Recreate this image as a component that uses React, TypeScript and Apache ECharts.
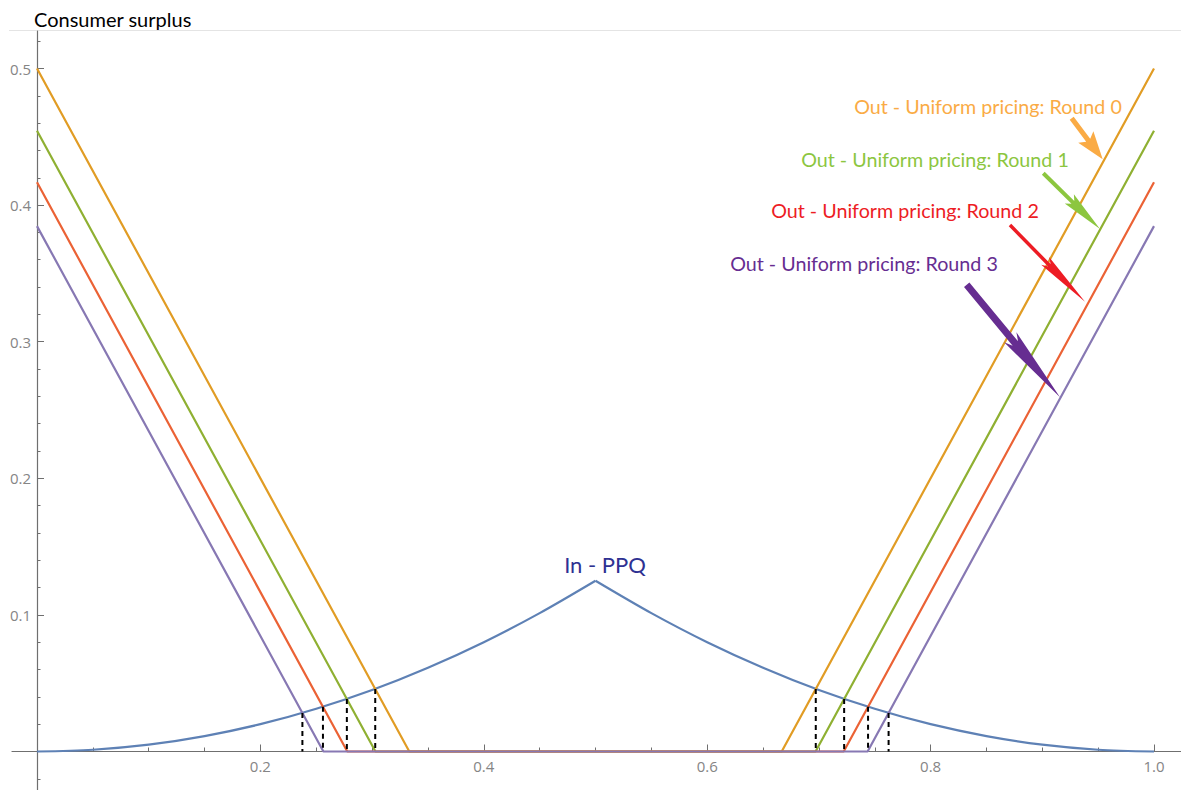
import React, { useEffect, useRef } from "react";
import * as echarts from "echarts";

// ---------- data ----------
const roundNames = [
  "Out - Uniform pricing: Round 0",
  "Out - Uniform pricing: Round 1",
  "Out - Uniform pricing: Round 2",
  "Out - Uniform pricing: Round 3",
];
// value at x = 0 and x = 1 for each round's V-shaped line
const roundIntercepts = [0.5, 0.4545, 0.4167, 0.3846];
// where each line reaches zero on the left and right
const roundZeroLeft = [0.3333, 0.303, 0.2778, 0.2564];
const roundZeroRight = [0.6667, 0.697, 0.7222, 0.7436];

// In - PPQ curve (left half rises to the peak at 0.5, right half falls)
const ppqLeftX = [0, 0.05, 0.1, 0.15, 0.2, 0.25, 0.3, 0.35, 0.4, 0.45, 0.5];
const ppqLeftY = [0, 0.0013, 0.005, 0.0113, 0.02, 0.0313, 0.045, 0.0613, 0.08, 0.1013, 0.125];
const ppqRightX = [0.5, 0.55, 0.6, 0.65, 0.7, 0.75, 0.8, 0.85, 0.9, 0.95, 1.0];
const ppqRightY = [0.125, 0.1013, 0.08, 0.0613, 0.045, 0.0313, 0.02, 0.0113, 0.005, 0.0013, 0];

// dashed drop lines at the intersections
const dropX = [0.3028, 0.2774, 0.256, 0.2376, 0.6972, 0.7226, 0.744, 0.7624];
const dropY = [0.0458, 0.0385, 0.0328, 0.0282, 0.0458, 0.0385, 0.0328, 0.0282];

const xTickValues = [0.2, 0.4, 0.6, 0.8, 1.0];
const yTickValues = [0.1, 0.2, 0.3, 0.4, 0.5];

// ---------- styles ----------
const lineColors = ["#E19C24", "#8FB032", "#EB6235", "#8778B3"];
const labelColors = ["#FAAB45", "#8CC63F", "#ED1C24", "#662D91"];
const ppqColor = "#5E81B5";
const axisColor = "#6f6f6f";
const tickLabelColor = "#858585";

// pixel layout
const W = 1181;
const H = 790;
const X0 = 37; // pixel of x = 0
const PX = 1117; // pixels per unit x
const Y0 = 751.5; // pixel of y = 0
const PY = 1366; // pixels per unit y
const xMin = (12 - X0) / PX;
const xMax = (W - X0) / PX;
const yMax = (Y0 - 31) / PY;
const yMin = (Y0 - H) / PY;

function arrow(x1: number, y1: number, x2: number, y2: number, w: number, L: number, hw: number, notch: number) {
  const d = Math.hypot(x2 - x1, y2 - y1);
  const ux = (x2 - x1) / d;
  const uy = (y2 - y1) / d;
  const vx = -uy;
  const vy = ux;
  const nx = x2 - ux * L;
  const ny = y2 - uy * L;
  const bx = nx - ux * notch;
  const by = ny - uy * notch;
  return [
    [x1 + (vx * w) / 2, y1 + (vy * w) / 2],
    [nx + (vx * w) / 2, ny + (vy * w) / 2],
    [bx + (vx * hw) / 2, by + (vy * hw) / 2],
    [x2, y2],
    [bx - (vx * hw) / 2, by - (vy * hw) / 2],
    [nx - (vx * w) / 2, ny - (vy * w) / 2],
    [x1 - (vx * w) / 2, y1 - (vy * w) / 2],
  ];
}

const arrowSpecs = [
  { t: [1071.7, 118.3], p: [1102.7, 159.3], w: 5, L: 24, hw: 19, n: 4 },
  { t: [1043.3, 173.3], p: [1100, 229], w: 4, L: 38, hw: 13, n: 5 },
  { t: [1010, 225], p: [1085, 301.7], w: 3.5, L: 51, hw: 11, n: 6 },
  { t: [966.7, 284.7], p: [1060, 397.3], w: 7, L: 70, hw: 16, n: 8 },
];
const labelPos = [
  [988, 106],
  [935, 159],
  [905, 210],
  [864, 263],
];

export default function App() {
  const ref = useRef<HTMLDivElement>(null);
  useEffect(() => {
    if (!ref.current) return;
    const chart = echarts.init(ref.current, undefined, { renderer: "svg" });
    const fmt = (v: number) => (Math.abs(v) < 1e-9 ? "" : v.toFixed(1));
    const series: any[] = [];
    [
      [ppqLeftX, ppqLeftY],
      [ppqRightX, ppqRightY],
    ].forEach(([xs, ys]) => {
      series.push({
        type: "line",
        name: "In - PPQ",
        xAxisIndex: 0,
        yAxisIndex: 0,
        data: xs.map((x, i) => [x, ys[i]]),
        symbol: "none",
        smooth: 0.3,
        lineStyle: { color: ppqColor, width: 2.2 },
        z: 2,
      });
    });
    roundIntercepts.forEach((a, i) => {
      series.push({
        type: "line",
        name: roundNames[i],
        xAxisIndex: 0,
        yAxisIndex: 0,
        data: [
          [0, a],
          [roundZeroLeft[i], 0],
          [roundZeroRight[i], 0],
          [1, a],
        ],
        symbol: "none",
        lineStyle: { color: lineColors[i], width: 2.2 },
        z: 3,
      });
    });
    dropX.forEach((x, i) => {
      series.push({
        type: "line",
        xAxisIndex: 0,
        yAxisIndex: 0,
        data: [
          [x, dropY[i]],
          [x, 0],
        ],
        symbol: "none",
        lineStyle: { color: "#000", width: 2, type: [5, 4] },
        z: 5,
      });
    });

    const graphic: any[] = [
      {
        type: "line",
        shape: { x1: 9, y1: 30.5, x2: W, y2: 30.5 },
        style: { stroke: "#e4e4e4", lineWidth: 1 },
      },
      {
        type: "text",
        style: {
          text: "Consumer surplus",
          x: 34,
          y: 19,
          fontSize: 20,
          fontFamily: "Lato",
          fill: "#000",
          verticalAlign: "middle",
        },
      },
      {
        type: "text",
        style: {
          text: "In - PPQ",
          x: 605,
          y: 564,
          fontSize: 22,
          fontFamily: "Lato",
          fill: "#2E3192",
          align: "center",
          verticalAlign: "middle",
        },
      },
    ];
    roundNames.forEach((name, i) => {
      graphic.push({
        type: "text",
        style: {
          text: name,
          x: labelPos[i][0],
          y: labelPos[i][1],
          fontSize: 19.7,
          fontFamily: "Lato",
          fill: labelColors[i],
          align: "center",
          verticalAlign: "middle",
        },
      });
      const s = arrowSpecs[i];
      graphic.push({
        type: "polygon",
        shape: { points: arrow(s.t[0], s.t[1], s.p[0], s.p[1], s.w, s.L, s.hw, s.n) },
        style: { fill: labelColors[i] },
        z: 10,
      });
    });

    chart.setOption({
      animation: false,
      backgroundColor: "#fff",
      grid: [
        { left: 12, top: 31, width: W - 12, height: H - 31 },
        { left: X0, top: Y0 - 0.5 * PY, width: PX, height: 0.5 * PY },
        { left: X0, top: Y0 - 0.52 * PY, width: PX, height: 0.54 * PY },
      ],
      xAxis: [
        {
          gridIndex: 0,
          type: "value",
          min: xMin,
          max: xMax,
          axisLine: { show: true, onZero: true, lineStyle: { color: axisColor, width: 1.2 } },
          axisTick: { show: false },
          axisLabel: { show: false },
          splitLine: { show: false },
        },
        {
          gridIndex: 1,
          type: "value",
          min: 0,
          max: xTickValues[xTickValues.length - 1],
          interval: xTickValues[1] - xTickValues[0],
          axisLine: { show: false },
          axisTick: { show: true, inside: true, length: 7, lineStyle: { color: axisColor, width: 1 } },
          minorTick: { show: true, splitNumber: 4, length: 4, lineStyle: { color: axisColor, width: 1 } },
          axisLabel: { formatter: fmt, color: tickLabelColor, fontSize: 15, fontFamily: "Open Sans", margin: 7 },
          splitLine: { show: false },
          minorSplitLine: { show: false },
        },
        { gridIndex: 2, type: "value", min: 0, max: 1, show: false },
      ],
      yAxis: [
        {
          gridIndex: 0,
          type: "value",
          min: yMin,
          max: yMax,
          axisLine: { show: true, onZero: true, lineStyle: { color: axisColor, width: 1.2 } },
          axisTick: { show: false },
          axisLabel: { show: false },
          splitLine: { show: false },
        },
        {
          gridIndex: 1,
          type: "value",
          min: 0,
          max: yTickValues[yTickValues.length - 1],
          interval: yTickValues[1] - yTickValues[0],
          axisLine: { show: false },
          axisTick: { show: true, inside: true, length: 7, lineStyle: { color: axisColor, width: 1 } },
          axisLabel: { formatter: fmt, color: tickLabelColor, fontSize: 15, fontFamily: "Open Sans", margin: 6 },
          splitLine: { show: false },
        },
        {
          gridIndex: 2,
          type: "value",
          min: -0.02,
          max: 0.52,
          interval: 0.02,
          axisLine: { show: false },
          axisTick: { show: true, inside: true, length: 3.5, lineStyle: { color: axisColor, width: 1 } },
          axisLabel: { show: false },
          splitLine: { show: false },
        },
      ],
      series,
      graphic,
    });
    return () => chart.dispose();
  }, []);
  return <div ref={ref} style={{ position: "absolute", left: 0, top: 0, width: W, height: H }} />;
}
